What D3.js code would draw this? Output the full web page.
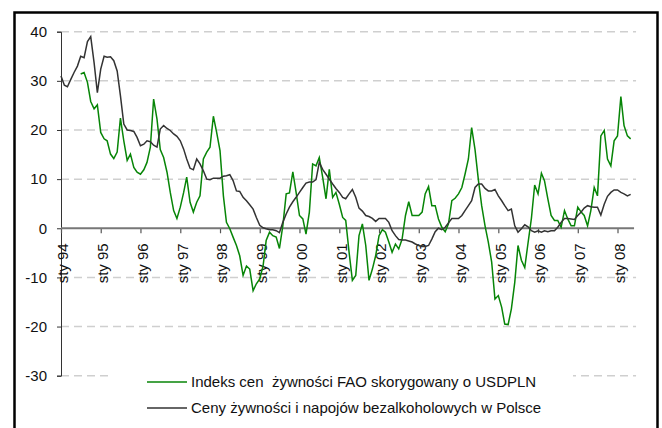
<!DOCTYPE html>
<html>
<head>
<meta charset="utf-8">
<script src="https://d3js.org/d3.v7.min.js"></script>
<style>
body {
	margin: 0;
	background: #fff;
}
svg {
	font-family: Arial, "Liberation Sans", sans-serif;
}
.grid line {
	stroke: #cfcfcf;
	stroke-width: 1.5px;
	stroke-dasharray: 8,5;
}
.line {
	fill: none;
	stroke-width: 1.5px;
}
.tick text {
	font-size: 15px;
	fill: #111;
}
.legend text {
	white-space: pre;
}
</style>
</head>
<body>
<svg id="chart" width="662" height="428"></svg>

<script>

// monthly y/y change, %; black series from sty 94, green from lip 94
var startPL = new Date(1994, 0, 1),
	startFAO = new Date(1994, 6, 1);

var foodPL = [
	31, 29.1, 28.8, 30.3, 31.7, 33, 35, 34.7, 38, 39, 33.7, 27.6,
	32.4, 35, 34.8, 34.9, 34.1, 32, 27, 21.2, 20, 19.9, 19.7, 18.5,
	16.8, 17.1, 17.8, 17.6, 16.9, 16.5, 20.2, 20.9, 20.3, 19.9, 19.2, 18.7,
	17.8, 16.1, 14.1, 12.2, 11.9, 14.1, 13.1, 11.7, 10, 9.9, 10.2, 10.2,
	10.2, 10.6, 10.7, 10.9, 9.7, 7.6, 7.5, 6.3, 5.6, 4.8, 3.9, 2.2,
	0.6, 0.1, -0.1, -0.3, -0.3, -0.5, -0.9, 1.2, 2.9, 4.3, 5.4, 6.3,
	7.3, 8.3, 9.2, 9.4, 9.4, 9.9, 13.4, 12, 11, 10, 9, 8.1,
	7.3, 6.3, 6, 7, 7.9, 6.3, 4.1, 3.5, 2.6, 2.4, 2, 1.4,
	2, 2, 2, 1.2, -0.5, -1.5, -2.3, -2.4, -2.4, -2.6, -2.8, -3.2,
	-3.5, -3.7, -3.7, -3.5, -2.2, -0.7, 0, -0.3, 0.2, 1.1, 2, 2,
	2, 2.6, 3.6, 4.6, 5.6, 8.3, 9, 9, 8.1, 7.6, 7.6, 7.9,
	6.6, 5.6, 4.6, 3.6, 3.9, 0.5, -0.8, -0.1, 0.7, 0.3, -0.5, -0.8,
	-0.5, -0.8, -0.5, -0.7, -0.5, -0.5, 0.2, 1.2, 2, 2, 1.9, 1.8,
	2.6, 3.3, 4.1, 4.6, 4.4, 4.3, 4.3, 2.7, 4.9, 6.5, 7.3, 7.8,
	7.8, 7.3, 7, 6.6, 6.9
];

var faoUSD = [
	31.4, 31.7, 29.7, 25.8, 24.3, 25.1,
	19.5, 18.2, 17.8, 15.1, 14.2, 15.5, 22.4, 17.8, 13.8, 15.1, 12.4, 11.4,
	11, 11.9, 13.4, 16.5, 26.3, 22.2, 16, 14.4, 11.4, 7.3, 3.6, 2,
	4.3, 7.3, 10.4, 5.3, 3.3, 5.3, 6.6, 14.1, 15.5, 16.5, 22.8, 19.5,
	15.8, 6.6, 1.2, -0.1, -1.8, -3.5, -5.6, -9.6, -7.7, -8.3, -12.7, -11.3,
	-10.3, -7.6, -2.5, -0.8, -1.5, -1.8, -4.1, 0.5, 7, 7.2, 11.5, 7.3,
	2.6, 1.9, -1.2, 3.3, 13.1, 12.7, 14.4, 10.4, 6, 12, 6.3, 7.3,
	4.9, 2.2, 1.6, -4.9, -10.6, -9.6, -1.5, 0.9, -3.5, -10.6, -8.3, -5.6,
	-1.5, -0.3, -0.8, -2.8, -4.9, -3.2, -4.2, -2.2, 2.6, 5.4, 2.6, 2.6,
	2.6, 3.3, 7, 8.5, 4.6, 4.6, 1.9, 0.2, -0.7, 0.9, 5.6, 6.1,
	7, 8.3, 11, 14.1, 20.5, 16, 10, 4.6, 0.5, -2.8, -6.9, -14.4,
	-13.7, -16.1, -19.5, -19.6, -16.4, -11, -3.5, -6.5, -8, -3, 2, 8.8,
	7, 11.2, 9.7, 6, 2.6, 1.6, 1.6, 0.2, 3.6, 1.9, 0.5, 0.5,
	4.3, 3.3, 2.6, 0.5, 3.6, 8.3, 6.6, 18.8, 19.9, 14.1, 12.7, 17.8,
	18.8, 26.8, 20.9, 18.8, 18.2
];

var yTicks = [-30, -20, -10, 0, 10, 20, 30, 40];
var yearTicks = d3.range(1994, 2009);
var legendLabels = [
	"Indeks cen  żywności FAO skorygowany o USDPLN",
	"Ceny żywności i napojów bezalkoholowych w Polsce"
];
var colors = ["#078507", "#333333"];

function toSeries(start, values) {
	return values.map((v, i) => ({date: d3.timeMonth.offset(start, i), value: v}));
}

var series = [toSeries(startFAO, faoUSD), toSeries(startPL, foodPL)];

var svg = d3.select("#chart");

var x = d3.scaleTime()
	.domain([new Date(1994, 0, 1), new Date(2008, 0, 1)])
	.range([61, 617.5]);

var y = d3.scaleLinear()
	.domain([-30, 40])
	.range([375.7, 31.7]);

var xEnd = x(new Date(2008, 5, 1));

// frame
svg.append("rect")
	.attr("x", 14.5)
	.attr("y", 12.5)
	.attr("width", 643)
	.attr("height", 440)
	.attr("fill", "#fff")
	.attr("stroke", "#000")
	.attr("stroke-width", 2.5);

// gridlines
svg.append("g")
	.attr("class", "grid")
	.selectAll("line")
	.data(yTicks.filter(t => t !== 0))
	.enter().append("line")
	.attr("x1", x.range()[0])
	.attr("x2", xEnd + 2)
	.attr("y1", d => y(d))
	.attr("y2", d => y(d));

// y axis (plain hyphen for negatives, like the original)
var yAxis = svg.append("g")
	.attr("transform", "translate(" + x.range()[0] + ",0)")
	.call(d3.axisLeft(y).tickValues(yTicks).tickSize(4).tickPadding(10).tickFormat(d => String(d)));
yAxis.select(".domain").attr("stroke", "#333");
yAxis.selectAll(".tick line").attr("stroke", "#333");

// x axis
var xAxis = svg.append("g")
	.attr("transform", "translate(0," + y(0) + ")")
	.call(d3.axisBottom(x)
		.tickValues(yearTicks.map(yr => new Date(yr, 0, 1)))
		.tickSize(5)
		.tickFormat(d => "sty " + d3.timeFormat("%y")(d)));
xAxis.select(".domain").remove();
xAxis.append("line")
	.attr("x1", x.range()[0])
	.attr("x2", xEnd)
	.attr("stroke", "#777")
	.attr("stroke-width", 2);
xAxis.selectAll(".tick line").attr("stroke", "#555").attr("stroke-width", 1.2);
xAxis.selectAll(".tick text")
	.attr("transform", "rotate(-90)")
	.attr("text-anchor", "end")
	.attr("x", -15)
	.attr("y", 0)
	.attr("dy", "0.45em");

// lines
var line = d3.line()
	.x(d => x(d.date))
	.y(d => y(d.value));

svg.selectAll(".series")
	.data(series)
	.enter().append("path")
	.attr("class", "line series")
	.attr("stroke", (d, i) => colors[i])
	.attr("d", line);

// legend
svg.append("rect")
	.attr("x", 112)
	.attr("y", 364)
	.attr("width", 461)
	.attr("height", 58)
	.attr("fill", "#fff");

var legend = svg.selectAll(".legend")
	.data(legendLabels)
	.enter().append("g")
	.attr("class", "legend")
	.attr("transform", (d, i) => "translate(147," + (382 + i * 26) + ")");

legend.append("line")
	.attr("x1", 0)
	.attr("x2", 40)
	.attr("stroke", (d, i) => colors[i])
	.attr("stroke-width", 1.5);

legend.append("text")
	.attr("x", 44)
	.attr("dy", "0.36em")
	.attr("font-size", 15)
	.attr("fill", "#111")
	.text(d => d);

</script>
</body>
</html>
